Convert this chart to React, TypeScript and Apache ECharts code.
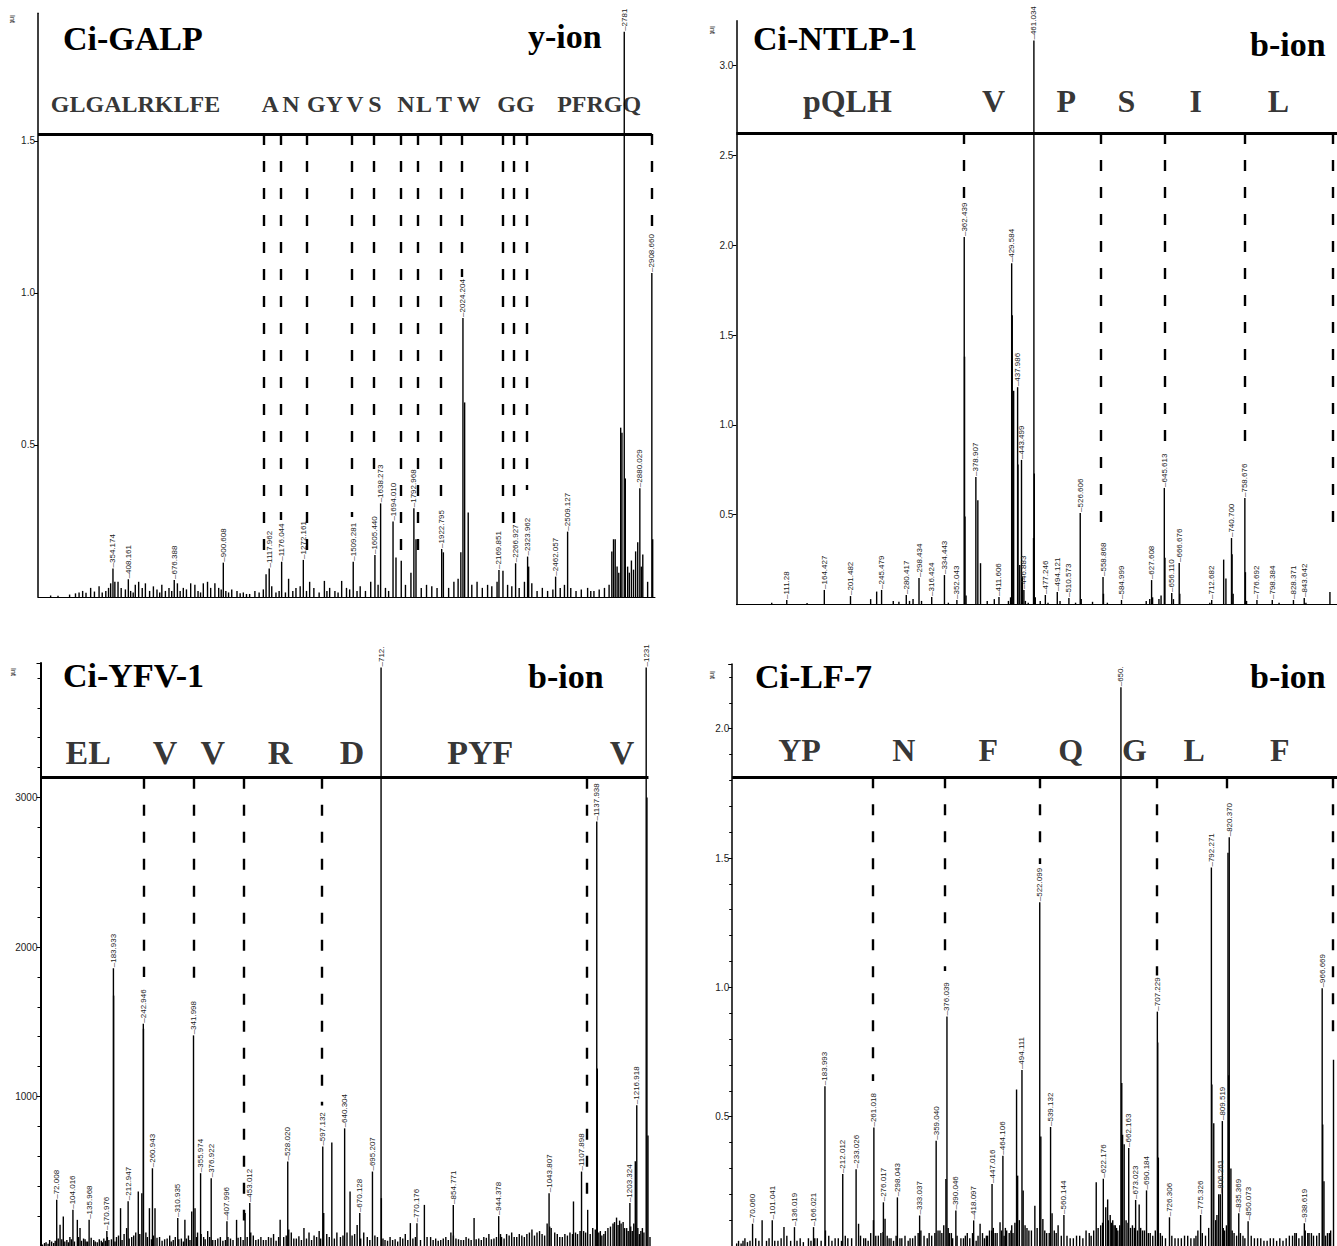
import React, { useEffect, useRef } from "react";
import * as echarts from "echarts";

type Peak = [number, number, string]; // m/z position, intensity, printed label
type Stick = [number, number]; // unlabelled peak: m/z, intensity
type Cut = [number, number]; // dashed fragment line: m/z, lower end (intensity)
type Seq = [string, number]; // residue text, m/z centre

// ================= Panel 1 : Ci-GALP (y-ion) =================
const galpTitle = "Ci-GALP";
const galpIon = "y-ion";
const galpPeaks: Peak[] = [
  [356, 0.094, "354.174"], [429, 0.058, "408.161"], [647, 0.056, "676.388"], [880, 0.113, "900.608"],
  [1098, 0.094, "1117.962"], [1157, 0.116, "1176.044"], [1260, 0.122, "1272.161"], [1497, 0.116, "1509.281"],
  [1600, 0.138, "1605.440"], [1627, 0.308, "1638.273"], [1686, 0.248, "1694.010"], [1785, 0.292, "1792.968"],
  [1917, 0.158, "1922.795"], [2018, 0.918, "2024.204"], [2189, 0.089, "2169.851"], [2268, 0.111, "2266.927"],
  [2325, 0.133, "2323.962"], [2458, 0.067, "2462.057"], [2515, 0.215, "2509.127"], [2784, 1.859, "2781"],
  [2858, 0.358, "2880.029"], [2915, 1.066, "2908.660"],
];
const galpSticks: Stick[] = [
  [60, 0.005], [95, 0.004], [150, 0.008], [178, 0.012], [195, 0.015], [212, 0.02], [228, 0.014], [250, 0.03],
  [268, 0.018], [290, 0.035], [305, 0.015], [322, 0.02], [335, 0.03], [345, 0.045], [365, 0.05], [380, 0.05],
  [395, 0.03], [415, 0.025], [440, 0.02], [452, 0.015], [462, 0.04], [478, 0.05], [495, 0.03], [510, 0.045], [530, 0.02],
  [548, 0.035], [565, 0.025], [578, 0.015], [588, 0.04], [605, 0.02], [622, 0.03], [635, 0.02], [662, 0.045], [675, 0.02],
  [690, 0.03], [705, 0.025], [725, 0.045], [745, 0.04], [760, 0.02], [772, 0.015], [785, 0.045], [805, 0.05], [820, 0.03],
  [840, 0.045], [858, 0.03], [870, 0.025], [892, 0.02], [905, 0.015], [920, 0.025], [945, 0.02], [960, 0.012], [975, 0.015],
  [990, 0.01], [1005, 0.01], [1030, 0.02], [1050, 0.015], [1070, 0.025], [1083, 0.075], [1110, 0.035], [1130, 0.015],
  [1145, 0.02], [1175, 0.015], [1190, 0.06], [1210, 0.02], [1225, 0.03], [1245, 0.035], [1275, 0.02], [1290, 0.05],
  [1310, 0.03], [1335, 0.015], [1360, 0.053], [1372, 0.02], [1385, 0.03], [1410, 0.02], [1425, 0.015], [1442, 0.053],
  [1465, 0.03], [1480, 0.025], [1515, 0.02], [1530, 0.035], [1555, 0.02], [1580, 0.05], [1615, 0.04], [1650, 0.03],
  [1665, 0.02], [1700, 0.13], [1725, 0.119], [1745, 0.04], [1771, 0.08], [1795, 0.19], [1820, 0.03], [1845, 0.04],
  [1870, 0.035], [1895, 0.03], [1925, 0.147], [1950, 0.03], [1975, 0.05], [1995, 0.06], [2008, 0.147], [2026, 0.64],
  [2043, 0.278], [2060, 0.04], [2085, 0.05], [2110, 0.03], [2135, 0.04], [2155, 0.035], [2180, 0.05], [2208, 0.086],
  [2230, 0.04], [2250, 0.035], [2285, 0.03], [2310, 0.05], [2330, 0.1], [2345, 0.045], [2370, 0.02], [2395, 0.03],
  [2420, 0.02], [2445, 0.025], [2480, 0.03], [2500, 0.04], [2530, 0.03], [2555, 0.02], [2580, 0.025], [2610, 0.03],
  [2625, 0.02], [2640, 0.02], [2665, 0.025], [2690, 0.03], [2712, 0.04], [2725, 0.15], [2733, 0.19], [2741, 0.19],
  [2750, 0.1], [2758, 0.08], [2767, 0.557], [2773, 0.54], [2789, 0.39], [2800, 0.1], [2808, 0.08], [2818, 0.12],
  [2828, 0.09], [2838, 0.15], [2848, 0.18], [2865, 0.1], [2872, 0.14], [2895, 0.05], [2919, 0.19],
];
const galpCuts: Cut[] = [
  [1073, 0.132], [1154, 0.253], [1277, 0.132], [1491, 0.263], [1595, 0.395], [1724, 0.155], [1804, 0.112],
  [1914, 0.329], [2013, 1.053], [2208, 0.23], [2260, 0.243], [2322, 0.352], [2915, 1.217],
];
const galpSeq: Seq[] = [
  ["GLGALRKLFE", 463], ["A", 1102], ["N", 1201], ["GY", 1363], ["V", 1505], ["S", 1600], ["N", 1747],
  ["L", 1833], ["T", 1928], ["W", 2046], ["GG", 2270], ["PFRGQ", 2665],
];

// ================= Panel 2 : Ci-NTLP-1 (b-ion) =================
const ntlpTitle = "Ci-NTLP-1";
const ntlpIon = "b-ion";
const ntlpPeaks: Peak[] = [
  [111.28, 0.025, "111.28"], [164.427, 0.081, "164.427"], [201.482, 0.047, "201.482"], [245.479, 0.081, "245.479"],
  [280.417, 0.053, "280.417"], [298.434, 0.148, "298.434"], [316.424, 0.042, "316.424"], [334.443, 0.164, "334.443"],
  [352.043, 0.025, "352.043"], [362.439, 2.046, "362.439"], [378.907, 0.71, "378.907"], [411.606, 0.042, "411.606"],
  [429.584, 1.9, "429.584"], [437.986, 1.21, "437.986"], [443.499, 0.805, "443.499"], [446.883, 0.081, "446.883"],
  [461.034, 3.14, "461.034"], [477.246, 0.053, "477.246"], [494.121, 0.07, "494.121"], [510.573, 0.036, "510.573"],
  [526.606, 0.51, "526.606"], [558.868, 0.153, "558.868"], [584.999, 0.025, "584.999"], [627.608, 0.136, "627.608"],
  [645.613, 0.649, "645.613"], [656.11, 0.064, "656.110"], [666.676, 0.231, "666.676"], [712.682, 0.025, "712.682"],
  [740.7, 0.37, "740.700"], [759.6, 0.593, "758.676"], [776.692, 0.025, "776.692"], [798.384, 0.025, "798.384"],
  [828.371, 0.025, "828.371"], [843.642, 0.036, "843.642"],
];
const ntlpSticks: Stick[] = [
  [90, 0.01], [140, 0.008], [230, 0.03], [238.5, 0.072], [262, 0.02], [270, 0.015], [285, 0.02], [290, 0.03],
  [302, 0.02], [340, 0.01], [362.9, 1.38], [363.5, 0.49], [365, 0.05], [381.7, 0.58], [385.5, 0.23], [395, 0.02],
  [405, 0.03], [425, 0.02], [428, 0.04], [430.4, 1.61], [432.4, 1.19], [438.5, 0.78], [441, 0.22], [444.8, 0.156],
  [449, 0.02], [453, 0.01], [460.5, 0.37], [461.6, 0.73], [463, 0.04], [470, 0.02], [481, 0.01], [498, 0.02],
  [520, 0.01], [528, 0.03], [544, 0.015], [559.5, 0.06], [565, 0.01], [620, 0.02], [625, 0.03], [629, 0.04],
  [638, 0.03], [641, 0.05], [646.5, 0.26], [658.5, 0.03], [667.5, 0.06], [710, 0.01], [729.6, 0.25], [732.8, 0.145],
  [741.5, 0.28], [743, 0.06], [760.4, 0.18], [762, 0.02], [808, 0.01], [846, 0.01], [880, 0.07],
];
const ntlpCuts: Cut[] = [[362.439, 2.25], [556.3, 0.454], [645.6, 0.86], [759.6, 0.877], [884, 0.4]];
const ntlpSeq: Seq[] = [["pQLH", 197], ["V", 404], ["P", 507], ["S", 592], ["I", 690], ["L", 807]];

// ================= Panel 3 : Ci-YFV-1 (b-ion) =================
const yfvTitle = "Ci-YFV-1";
const yfvIon = "b-ion";
const yfvPeaks: Peak[] = [
  [72.008, 309, "72.008"], [104.016, 242, "104.016"], [135.968, 175, "135.968"], [170.976, 100, "170.976"],
  [183.933, 1858, "183.933"], [212.947, 300, "212.947"], [242.946, 1487, "242.946"], [260.943, 520, "260.943"],
  [310.935, 187, "310.935"], [341.998, 1409, "341.998"], [355.974, 487, "355.974"], [376.922, 453, "376.922"],
  [407.996, 165, "407.996"], [453.012, 287, "453.012"], [528.02, 565, "528.020"], [597.132, 665, "597.132"],
  [640.304, 787, "640.304"], [670.128, 220, "670.128"], [695.207, 498, "695.207"], [712.2, 3870, "712."],
  [783, 153, "770.176"], [854.771, 275, "854.771"], [944.378, 200, "944.378"], [1043.807, 353, "1043.807"],
  [1107.898, 498, "1107.898"], [1137.938, 2840, "1137.938"], [1203.324, 287, "1203.324"], [1216.918, 942, "1216.918"],
  [1235.5, 3870, "1231"],
];
const yfvSticks: Stick[] = [
  [44, 10], [48, 20], [51, 25], [55, 15], [58, 40], [62, 30], [66, 20], [69, 35], [75, 50], [78.6, 142], [82, 45],
  [85, 198], [88, 30], [92, 40], [95, 25], [98, 60], [101, 45], [107, 30], [112.7, 175], [115, 60], [118, 120],
  [121, 35], [125, 50], [128, 45], [130, 30], [133, 30], [140, 55], [145, 40], [148, 30], [152, 25], [156, 45],
  [160, 35], [162, 25], [165, 50], [168, 35], [172, 60], [175, 40], [180, 45], [184.3, 1675], [187, 30], [190, 60],
  [194, 70], [198, 253], [201, 40], [205, 80], [210, 120], [215, 50], [220, 60], [224, 70], [228, 90], [233, 365],
  [236, 80], [240, 353], [243.3, 1453], [248, 90], [251, 60], [255, 253], [259, 45], [263, 70], [266, 253], [270, 55],
  [275, 60], [280, 35], [285, 45], [290, 50], [295, 70], [298, 30], [302, 40], [306, 60], [313, 45], [318, 50],
  [322, 30], [325, 175], [328, 50], [332, 70], [335, 40], [338.5, 231], [345, 253], [348, 60], [350, 90], [357, 80],
  [362, 60], [365, 45], [370, 100], [374, 60], [380, 40], [385, 40], [390, 50], [395, 60], [400, 35], [405, 40],
  [410, 60], [415, 50], [420, 40], [427, 175], [430, 55], [435, 60], [440, 40], [443.8, 220], [448, 60], [455, 90],
  [460, 70], [465, 40], [470, 45], [475, 60], [480, 40], [485, 40], [490, 60], [495, 55], [500, 80], [505, 35],
  [510, 60], [513, 175], [520, 60], [525, 70], [530, 110], [535, 90], [540, 50], [545, 50], [550, 65], [555, 40],
  [560, 120], [565, 50], [570, 90], [575, 40], [580, 70], [585, 60], [590, 100], [593, 50], [599, 220], [605, 80],
  [610, 60], [615, 693], [620, 50], [625, 90], [632, 60], [637, 70], [645, 90], [651, 365], [655, 70], [660, 80],
  [665, 140], [672, 50], [678, 90], [685, 60], [690, 40], [700, 70], [705, 60], [712.8, 320], [716, 50], [720, 40],
  [725, 35], [730, 60], [735, 40], [740, 45], [745, 30], [750, 60], [755, 50], [760, 80], [765, 40], [770, 153],
  [775, 50], [780, 60], [790, 40], [797.7, 275], [803, 60], [810, 60], [815, 40], [820, 50], [825, 35], [830, 40],
  [835, 50], [840, 60], [845, 40], [850, 90], [855, 70], [860, 50], [865, 45], [870, 40], [875, 40], [880, 60],
  [885, 50], [890, 40], [895.8, 187], [900, 45], [905, 50], [910, 40], [915, 60], [920, 55], [925, 80], [930, 45],
  [935, 50], [940, 60], [948, 80], [950, 60], [955, 50], [960, 80], [965, 70], [970, 90], [975, 60], [980, 60],
  [985, 80], [990, 70], [995, 60], [1000, 80], [1005, 90], [1010, 110], [1015, 70], [1020, 90], [1025, 100],
  [1030, 80], [1035, 70], [1040, 150], [1045, 130], [1048, 120], [1055, 90], [1060, 80], [1065, 60], [1070, 60],
  [1075, 80], [1080, 70], [1085, 90], [1090, 80], [1092, 298], [1096, 90], [1100, 80], [1105, 100], [1112, 100],
  [1116, 90], [1120, 242], [1125, 80], [1130, 120], [1135, 110], [1139, 1187], [1142, 90], [1145, 100], [1148, 70],
  [1152, 80], [1155, 100], [1160, 120], [1165, 130], [1170, 150], [1173, 160], [1177, 190], [1180, 140], [1183, 170],
  [1186, 150], [1190, 160], [1193, 120], [1197, 120], [1200, 100], [1205, 130], [1208, 100], [1211, 150], [1214, 567],
  [1219, 120], [1222, 80], [1225, 100], [1228, 120], [1231, 90], [1237, 3000], [1239, 740], [1243, 60],
];
const yfvCuts: Cut[] = [[243.5, 1800], [341.998, 1720], [441.8, 170], [595.7, 940], [1118.8, 320]];
const yfvSeq: Seq[] = [["EL", 134], ["V", 286], ["V", 380], ["R", 513], ["D", 655], ["PYF", 908], ["V", 1188]];

// ================= Panel 4 : Ci-LF-7 (b-ion) =================
const lfTitle = "Ci-LF-7";
const lfIon = "b-ion";
const lfPeaks: Peak[] = [
  [70.06, 0.086, "70.060"], [101.041, 0.1, "101.041"], [136.019, 0.073, "136.019"], [166.021, 0.073, "166.021"],
  [183.993, 0.618, "183.993"], [212.012, 0.278, "212.012"], [233.026, 0.297, "233.026"], [261.018, 0.458, "261.018"],
  [276.017, 0.169, "276.017"], [298.043, 0.188, "298.043"], [333.037, 0.118, "333.037"], [359.04, 0.407, "359.040"],
  [376.039, 0.887, "376.039"], [390.046, 0.137, "390.046"], [418.097, 0.099, "418.097"], [447.016, 0.24, "447.016"],
  [464.106, 0.349, "464.106"], [494.111, 0.68, "494.111"], [522.099, 1.329, "522.099"], [539.132, 0.46, "539.132"],
  [560.144, 0.12, "560.144"], [622.176, 0.26, "622.176"], [649.9, 2.16, "650."], [662.163, 0.379, "662.163"],
  [673.023, 0.178, "673.023"], [690.184, 0.215, "690.184"], [707.229, 0.906, "707.229"], [726.306, 0.111, "726.306"],
  [775.326, 0.12, "775.326"], [792.271, 1.463, "792.271"], [806.261, 0.2, "806.261"], [809.519, 0.483, "809.519"],
  [820.37, 1.58, "820.370"], [835.369, 0.127, "835.369"], [850.073, 0.096, "850.073"], [938.619, 0.088, "938.619"],
  [966.669, 0.996, "966.669"],
];
const lfSticks: Stick[] = [
  [45, 0.01], [48, 0.02], [52, 0.01], [55, 0.02], [58, 0.03], [62, 0.015], [66, 0.02], [75, 0.03], [80, 0.02],
  [85.1, 0.1], [92, 0.02], [96, 0.03], [105, 0.02], [110, 0.02], [115, 0.03], [119.5, 0.073], [124, 0.04], [130, 0.02],
  [140, 0.02], [145, 0.03], [150, 0.015], [158, 0.03], [162, 0.02], [168, 0.03], [172, 0.03], [178, 0.02],
  [184.8, 0.06], [190, 0.04], [195, 0.02], [200, 0.03], [205, 0.03], [210, 0.02], [216, 0.04], [220, 0.03],
  [226, 0.03], [236.9, 0.086], [240, 0.04], [245, 0.03], [248, 0.03], [252, 0.02], [256, 0.05], [260.3, 0.1],
  [264, 0.04], [268, 0.04], [272, 0.05], [275.5, 0.054], [278.6, 0.105], [282, 0.04], [285, 0.03], [288, 0.03],
  [292, 0.02], [296, 0.04], [302, 0.03], [305, 0.03], [310, 0.04], [315, 0.02], [318, 0.03], [322, 0.03], [326, 0.04],
  [330.7, 0.05], [335, 0.06], [340, 0.04], [345, 0.03], [348, 0.05], [352, 0.04], [357, 0.05], [362, 0.06],
  [365, 0.06], [368, 0.05], [371, 0.08], [374.4, 0.259], [378, 0.07], [380, 0.05], [383, 0.05], [385, 0.03],
  [392, 0.04], [398, 0.03], [402, 0.03], [405, 0.04], [408, 0.05], [412, 0.03], [416.3, 0.05], [422, 0.02],
  [425, 0.04], [428.2, 0.086], [432, 0.05], [435, 0.03], [438, 0.04], [440, 0.04], [443, 0.06], [446.5, 0.06],
  [449, 0.07], [452, 0.05], [455, 0.05], [459.6, 0.092], [462, 0.06], [466, 0.04], [468, 0.07], [470, 0.06],
  [474, 0.05], [476.8, 0.06], [478, 0.08], [480, 0.05], [483, 0.09], [485.6, 0.605], [487.3, 0.272], [490, 0.1],
  [496, 0.215], [499, 0.08], [502, 0.07], [505, 0.06], [509, 0.06], [514.4, 0.156], [518, 0.07], [523.8, 0.423],
  [527, 0.104], [530, 0.06], [533, 0.05], [537, 0.05], [541.5, 0.127], [545, 0.06], [548, 0.05], [551, 0.08],
  [556, 0.04], [565, 0.04], [570, 0.03], [575, 0.03], [580, 0.04], [585, 0.04], [590, 0.03], [595, 0.06], [600, 0.05],
  [603, 0.04], [607, 0.06], [611, 0.246], [614, 0.07], [618, 0.08], [621, 0.09], [626, 0.15], [629, 0.18],
  [630, 0.1], [633, 0.12], [635, 0.09], [637, 0.1], [639, 0.08], [641, 0.08], [643, 0.07], [645, 0.06], [648, 0.08],
  [651.2, 0.63], [652.5, 0.43], [655, 0.393], [658, 0.1], [661, 0.09], [665, 0.07], [668, 0.08], [671, 0.07],
  [676, 0.06], [678.6, 0.16], [681, 0.07], [684, 0.06], [687, 0.06], [693, 0.05], [696, 0.05], [700, 0.04],
  [704, 0.06], [707.8, 0.787], [708.8, 0.342], [712, 0.05], [715, 0.04], [720, 0.03], [730, 0.04], [735, 0.03],
  [740, 0.03], [745, 0.03], [750, 0.04], [755, 0.04], [760, 0.03], [765, 0.03], [768, 0.04], [771, 0.06], [778, 0.05],
  [783, 0.04], [788, 0.07], [793, 0.624], [796, 0.475], [799, 0.1], [801, 0.12], [803.8, 0.2], [811, 0.07],
  [813, 0.06], [816, 0.08], [818.4, 1.52], [819.5, 0.66], [823, 0.3], [825, 0.06], [828, 0.05], [832, 0.04],
  [838, 0.05], [842, 0.04], [845, 0.03], [855, 0.04], [860, 0.03], [865, 0.03], [870, 0.03], [875, 0.02], [880, 0.02],
  [885, 0.03], [890, 0.03], [895, 0.02], [900, 0.03], [905, 0.02], [910, 0.03], [915, 0.04], [920, 0.04],
  [923.6, 0.05], [926, 0.05], [930, 0.03], [935, 0.04], [940, 0.06], [944, 0.05], [946, 0.05], [949.7, 0.05],
  [953, 0.04], [958, 0.04], [962, 0.05], [967.5, 0.47], [969.5, 0.25], [972, 0.04], [975, 0.05], [978, 0.05],
  [980, 0.06], [984.5, 0.72],
];
const lfCuts: Cut[] = [[259, 0.638], [373, 1.063], [522, 1.477], [706, 1.046], [817, 1.765], [982.6, 0.81]];
const lfSeq: Seq[] = [["YP", 144], ["N", 308], ["F", 441], ["Q", 571], ["G", 671], ["L", 765], ["F", 900]];

// ================= axis scales (value ranges) =================
const galpAxis = { xMin: 0, xMax: 2930, yMax: 1.92, yStep: 0.5, seqLine: 1.523, seqEnd: 2915, seqY: 1.622, digits: 1, minor: false };
const ntlpAxis = { xMin: 40, xMax: 890, yMax: 3.25, yStep: 0.5, seqLine: 2.625, seqEnd: 890, seqY: 2.803, digits: 1, minor: false };
const yfvAxis = { xMin: 40, xMax: 1245, yMax: 3900, yStep: 1000, seqLine: 3133, seqEnd: 1240, seqY: 3303, digits: 0, minor: true };
const lfAxis = { xMin: 38, xMax: 990, yMax: 2.25, yStep: 0.5, seqLine: 1.812, seqEnd: 990, seqY: 1.919, digits: 1, minor: true };

// ================= layout (pixels) =================
const LAYOUT = [
  { grid: { left: 38, top: 13.3, width: 617, height: 583.7 }, title: [63, 38.5], ion: [528, 36.5], intLbl: [12, 19], seqSize: 24, axisW: 1.5 },
  { grid: { left: 736.4, top: 20.8, width: 603.5, height: 583.7 }, title: [753, 38.5], ion: [1250, 44], intLbl: [712, 30], seqSize: 32, axisW: 1.5 },
  { grid: { left: 40.5, top: 663, width: 610.5, height: 585 }, title: [63, 675.5], ion: [528, 676], intLbl: [13, 672], seqSize: 34, axisW: 2 },
  { grid: { left: 732.2, top: 664, width: 608.5, height: 585 }, title: [755, 676], ion: [1250, 676.5], intLbl: [712, 675], seqSize: 32, axisW: 1.5 },
];

const SERIF = '"Liberation Serif", "Times New Roman", serif';
const SANS = '"Liberation Sans", Arial, sans-serif';

const PANELS = [
  { title: galpTitle, ion: galpIon, peaks: galpPeaks, sticks: galpSticks, cuts: galpCuts, seq: galpSeq, axis: galpAxis },
  { title: ntlpTitle, ion: ntlpIon, peaks: ntlpPeaks, sticks: ntlpSticks, cuts: ntlpCuts, seq: ntlpSeq, axis: ntlpAxis },
  { title: yfvTitle, ion: yfvIon, peaks: yfvPeaks, sticks: yfvSticks, cuts: yfvCuts, seq: yfvSeq, axis: yfvAxis },
  { title: lfTitle, ion: lfIon, peaks: lfPeaks, sticks: lfSticks, cuts: lfCuts, seq: lfSeq, axis: lfAxis },
];

function buildOption() {
  const grid: any[] = [];
  const xAxis: any[] = [];
  const yAxis: any[] = [];
  const series: any[] = [];
  const graphic: any[] = [];

  PANELS.forEach((d, i) => {
    const a = d.axis;
    const l = LAYOUT[i];
    grid.push({ ...l.grid, containLabel: false });
    xAxis.push({
      gridIndex: i, type: "value", min: a.xMin, max: a.xMax,
      axisLine: { show: true, onZero: false, lineStyle: { color: "#000", width: 1 } },
      axisTick: { show: false }, axisLabel: { show: false }, splitLine: { show: false },
    });
    yAxis.push({
      gridIndex: i, type: "value", min: 0, max: a.yMax, interval: a.yStep,
      axisLine: { show: true, lineStyle: { color: "#000", width: l.axisW } },
      axisTick: { show: true, length: 4, lineStyle: { color: "#000" } },
      minorTick: { show: a.minor, splitNumber: 5, length: 3, lineStyle: { color: "#000" } },
      axisLabel: {
        showMinLabel: false, showMaxLabel: false, fontSize: 10, color: "#222", fontFamily: SANS, margin: 3,
        formatter: (v: number) => (a.digits ? v.toFixed(a.digits) : String(Math.round(v))),
      },
      splitLine: { show: false },
    });

    const barData = [
      ...d.sticks.map((s) => ({ value: [s[0], s[1]] })),
      ...d.peaks.map((p) => ({ value: [p[0], p[1]], name: p[2], label: { show: true } })),
    ];
    series.push({
      type: "bar", xAxisIndex: i, yAxisIndex: i, barWidth: 1.4, silent: true,
      itemStyle: { color: "#000" },
      label: {
        show: false, position: "top", rotate: 90, align: "left", verticalAlign: "middle", distance: 1,
        fontSize: 8, fontFamily: SANS, color: "#222",
        formatter: (p: any) => "\u2013" + p.name,
      },
      data: barData,
    });

    const solid = { type: "solid", width: 3, color: "#000" };
    const lines: any[] = [
      [{ coord: [a.xMin, a.seqLine], lineStyle: solid }, { coord: [a.seqEnd, a.seqLine], lineStyle: solid }],
      ...d.cuts.map((c) => [{ coord: [c[0], a.seqLine] }, { coord: [c[0], c[1]] }]),
    ];
    series.push({
      type: "scatter", xAxisIndex: i, yAxisIndex: i, silent: true, symbolSize: 1,
      itemStyle: { color: "rgba(0,0,0,0)" },
      label: {
        show: true, position: "inside", formatter: "{b}", fontFamily: SERIF, fontWeight: "bold",
        fontSize: l.seqSize, color: "#000",
      },
      data: d.seq.map((s) => ({ value: [s[1], a.seqY], name: s[0] })),
      markLine: {
        silent: true, symbol: ["none", "none"], label: { show: false },
        lineStyle: { color: "#000", width: 2.4, type: [11, 16] },
        emphasis: { disabled: true },
        data: lines,
      },
    });

    graphic.push({
      type: "text", x: l.title[0], y: l.title[1], silent: true,
      style: { text: d.title, fontFamily: SERIF, fontWeight: "bold", fontSize: 34, fill: "#000", align: "left", verticalAlign: "middle" },
    });
    graphic.push({
      type: "text", x: l.ion[0], y: l.ion[1], silent: true,
      style: { text: d.ion, fontFamily: SERIF, fontWeight: "bold", fontSize: 34, fill: "#000", align: "left", verticalAlign: "middle" },
    });
    graphic.push({
      type: "text", x: l.intLbl[0], y: l.intLbl[1], rotation: -Math.PI / 2, silent: true,
      style: { text: "Int", fontFamily: SANS, fontSize: 7, fill: "#000", align: "center", verticalAlign: "middle" },
    });
  });

  return { animation: false, backgroundColor: "#fff", grid, xAxis, yAxis, series, graphic };
}

export default function App() {
  const ref = useRef<HTMLDivElement>(null);
  useEffect(() => {
    if (!ref.current) return;
    const chart = echarts.init(ref.current, undefined, { renderer: "svg" });
    chart.setOption(buildOption() as any);
    return () => chart.dispose();
  }, []);
  return (
    <div
      ref={ref}
      style={{ position: "fixed", left: 0, top: 0, width: 1337, height: 1246, background: "#fff" }}
    />
  );
}
